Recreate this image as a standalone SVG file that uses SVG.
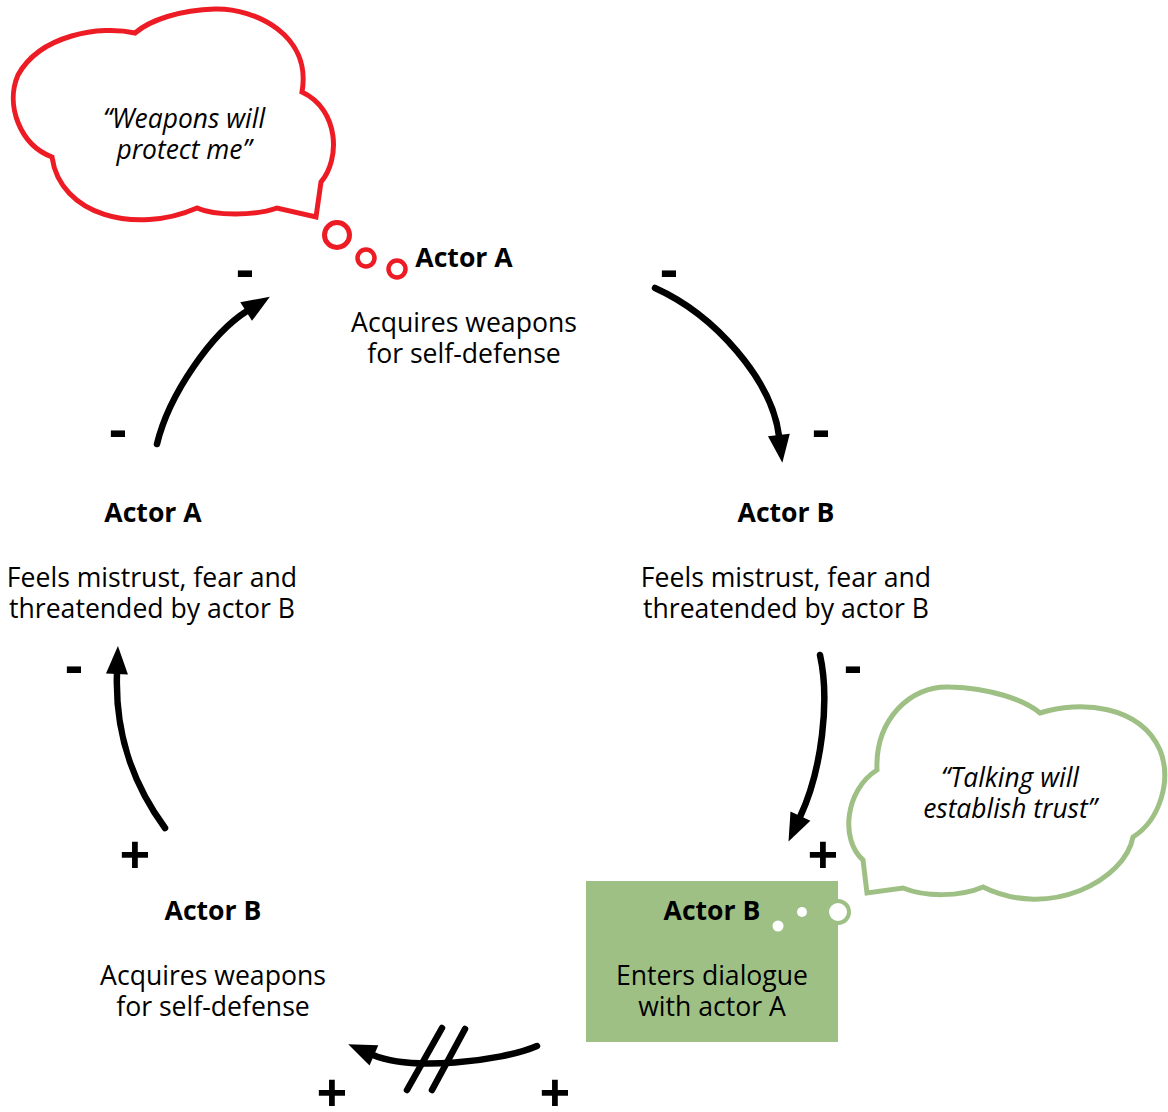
<svg xmlns="http://www.w3.org/2000/svg" width="1168" height="1112" viewBox="0 0 1168 1112">
<defs>
<style>
.t{font-family:"Open Sans","Liberation Sans",sans-serif;font-size:26.6px;fill:#000;text-anchor:middle}
.b{font-weight:bold}
.i{font-style:italic;font-size:26.4px}
.s{font-family:"Open Sans","Liberation Sans",sans-serif;font-size:54px;font-weight:bold;fill:#000;text-anchor:middle}
.c{fill:none;stroke:#000;stroke-width:6.5;stroke-linecap:round}
</style>
<marker id="ah" markerUnits="userSpaceOnUse" viewBox="-2 -12 32 24" markerWidth="32" markerHeight="24" refX="1" refY="0" orient="auto" overflow="visible">
<path d="M0,-11 L28,0 L0,11 Z" fill="#000"/>
</marker>
</defs>
<rect width="1168" height="1112" fill="#fff"/>

<g id="cloud-red">
<path d="M316,217 L321,182 C340,160 340,110 302,92 C312,35 255,8 215,9 C180,10 150,20 135,33 C100,25 40,35 18,75 C5,105 20,145 52,157 C60,215 135,235 197,208 C215,216 255,216 277,208 Z" fill="#fff" stroke="#ED1C24" stroke-width="5" stroke-linejoin="miter"/>
<circle cx="337" cy="235" r="12.5" fill="#fff" stroke="#ED1C24" stroke-width="5"/>
<circle cx="366" cy="258" r="8.5" fill="#fff" stroke="#ED1C24" stroke-width="4.5"/>
<circle cx="397" cy="269" r="8.5" fill="#fff" stroke="#ED1C24" stroke-width="4.5"/>
<text class="t i" x="184" y="128">“Weapons will</text>
<text class="t i" x="184" y="159">protect me”</text>
</g>

<g id="node-top">
<text class="t b" x="464" y="267">Actor A</text>
<text class="t" x="464" y="332">Acquires weapons</text>
<text class="t" x="464" y="363">for self-defense</text>
</g>

<g id="node-right">
<text class="t b" x="786" y="522">Actor B</text>
<text class="t" x="786" y="587">Feels mistrust, fear and</text>
<text class="t" x="786" y="618">threatended by actor B</text>
</g>

<g id="node-left">
<text class="t b" x="153" y="522">Actor A</text>
<text class="t" x="152" y="587">Feels mistrust, fear and</text>
<text class="t" x="152" y="618">threatended by actor B</text>
</g>

<g id="node-bottom-left">
<text class="t b" x="213" y="920">Actor B</text>
<text class="t" x="213" y="985">Acquires weapons</text>
<text class="t" x="213" y="1016">for self-defense</text>
</g>

<g id="cloud-green">
<path d="M867,893 L863,860 C840,840 845,790 877,770 C875,720 910,685 950,687 C990,688 1025,700 1040,713 C1080,700 1140,705 1160,750 C1172,780 1160,820 1133,837 C1125,880 1050,920 983,887 C960,897 925,897 903,888 Z" fill="#fff" stroke="#9FC085" stroke-width="5"/>
<text class="t i" x="1010" y="787">“Talking will</text>
<text class="t i" x="1010" y="818">establish trust”</text>
</g>

<g id="node-bottom-right">
<rect x="586" y="881" width="252" height="161" fill="#9FC085"/>
<circle cx="838" cy="912" r="11" fill="#fff" stroke="#9FC085" stroke-width="4"/>
<circle cx="802" cy="912" r="5" fill="#fff"/>
<circle cx="778" cy="926" r="5.5" fill="#fff"/>
<text class="t b" x="712" y="920">Actor B</text>
<text class="t" x="712" y="985">Enters dialogue</text>
<text class="t" x="712" y="1016">with actor A</text>
</g>

<g id="connectors">
<path class="c" d="M157,444 C169,394 212,333 247,311" marker-end="url(#ah)"/>
<path class="c" d="M655,288 C715,315 772,380 779,436" marker-end="url(#ah)"/>
<path class="c" d="M820,655 C830,700 822,770 800,817" marker-end="url(#ah)"/>
<path class="c" d="M165,828 C130,780 115,730 117,673" marker-end="url(#ah)"/>
<path class="c" d="M537,1046 C500,1062 410,1071 373,1055" marker-end="url(#ah)"/>
<line class="c" x1="442" y1="1028" x2="407" y2="1090"/>
<line class="c" x1="465" y1="1029" x2="432" y2="1090"/>
</g>

<g id="signs">
<text class="s" x="245" y="288">-</text>
<text class="s" x="669" y="288">-</text>
<text class="s" x="118" y="448">-</text>
<text class="s" x="821" y="448">-</text>
<text class="s" x="74" y="684">-</text>
<text class="s" x="853" y="684">-</text>
<text class="s" x="135" y="874">+</text>
<text class="s" x="823" y="874">+</text>
<text class="s" x="332" y="1112">+</text>
<text class="s" x="555" y="1112">+</text>
</g>
</svg>
